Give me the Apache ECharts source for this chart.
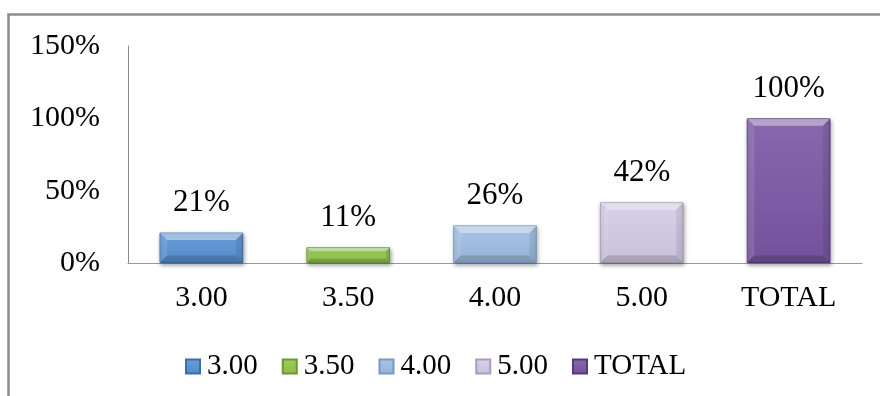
<!DOCTYPE html>
<html>
<head>
<meta charset="utf-8">
<script src="https://cdn.jsdelivr.net/npm/echarts@6/dist/echarts.min.js"></script>
<style>
  html, body { margin: 0; padding: 0; background: #fff; }
  #chart { width: 880px; height: 396px; }
</style>
</head>
<body>
<div id="chart"></div>
<script>
// Share of responses per score, with the overall total
const categories = ['3.00', '3.50', '4.00', '5.00', 'TOTAL'];
const percentages = [21, 11, 26, 42, 100];
const yMin = 0;
const yMax = 150;
const yStep = 50;

// Face and edge colours of each bar
const faceColors = ['#5893d6', '#92c84b', '#9fbee3', '#d5cce6', '#7a57a5'];
const edgeColors = ['#3b6ea9', '#6c9834', '#7a98bd', '#a89dbf', '#553a7b'];

const FONT = '"Liberation Serif", "Times New Roman", serif';

function shade(hex, amt) {
  const n = parseInt(hex.slice(1), 16);
  let r = n >> 16, g = (n >> 8) & 255, b = n & 255;
  const t = amt > 0 ? 255 : 0, p = Math.abs(amt);
  r = Math.round(r + (t - r) * p);
  g = Math.round(g + (t - g) * p);
  b = Math.round(b + (t - b) * p);
  return 'rgb(' + r + ',' + g + ',' + b + ')';
}

function faceGradient(c) {
  return new echarts.graphic.LinearGradient(0, 0, 0, 1, [
    { offset: 0, color: shade(c, 0.10) },
    { offset: 1, color: shade(c, -0.06) }
  ]);
}

const barSeries = categories.map((name, i) => ({
  type: 'bar',
  name: name,
  stack: 'all',
  barWidth: '57%',
  data: percentages.map((v, j) => (j === i ? v : '-')),
  itemStyle: {
    color: faceGradient(faceColors[i]),
    borderColor: edgeColors[i],
    borderWidth: 1,
    shadowColor: 'rgba(0,0,0,0.35)',
    shadowBlur: 4,
    shadowOffsetX: 1,
    shadowOffsetY: 2
  },
  label: {
    show: true,
    position: 'top',
    distance: 14,
    formatter: '{c}%',
    fontFamily: FONT,
    fontSize: 31,
    color: '#000'
  },
  emphasis: { disabled: true }
}));

// Bevelled facets laid over each bar
const bevelSeries = {
  type: 'custom',
  silent: true,
  z: 5,
  data: percentages.map((v, i) => [i, v]),
  encode: { x: 0, y: 1 },
  renderItem: function (params, api) {
    const top = api.coord([api.value(0), api.value(1)]);
    const base = api.coord([api.value(0), 0]);
    const w = api.size([1, 0])[0] * 0.57;
    const x0 = top[0] - w / 2 + 0.5, x1 = top[0] + w / 2 - 0.5;
    const yT = top[1] + 0.5, yB = base[1] - 0.5;
    const h = yB - yT;
    const d = Math.min(7, h * 0.25);
    const poly = (pts, fill) => ({ type: 'polygon', shape: { points: pts }, style: { fill: fill } });
    return {
      type: 'group',
      children: [
        poly([[x0, yT], [x1, yT], [x1 - d, yT + d], [x0 + d, yT + d]], 'rgba(255,255,255,0.42)'),
        poly([[x0, yT], [x0 + d, yT + d], [x0 + d, yB - d], [x0, yB]], 'rgba(255,255,255,0.12)'),
        poly([[x1, yT], [x1 - d, yT + d], [x1 - d, yB - d], [x1, yB]], 'rgba(0,0,0,0.08)'),
        poly([[x0, yB], [x0 + d, yB - d], [x1 - d, yB - d], [x1, yB]], 'rgba(0,0,0,0.15)')
      ]
    };
  }
};

const chart = echarts.init(document.getElementById('chart'), null, { renderer: 'canvas' });
chart.setOption({
  animation: false,
  backgroundColor: '#fff',
  graphic: [{
    type: 'rect',
    shape: { x: 8.5, y: 14.5, width: 1000, height: 1000 },
    style: { fill: 'none', stroke: '#8c8c8c', lineWidth: 2.5 },
    silent: true
  }],
  grid: { left: 128, right: 18, top: 46, bottom: 133 },
  legend: {
    data: categories,
    left: 180,
    top: 347,
    icon: 'rect',
    itemWidth: 14,
    itemHeight: 14,
    itemGap: 24,
    textStyle: { fontFamily: FONT, fontSize: 29, color: '#000', padding: [0, 0, 0, 2] }
  },
  xAxis: {
    type: 'category',
    data: categories,
    axisLine: { lineStyle: { color: '#9a9a9a', width: 1 } },
    axisTick: { show: false },
    axisLabel: { fontFamily: FONT, fontSize: 30, color: '#000', margin: 20 }
  },
  yAxis: {
    type: 'value',
    min: yMin,
    max: yMax,
    interval: yStep,
    axisLine: { show: true, lineStyle: { color: '#8a8a8a', width: 1 } },
    axisTick: { show: false },
    splitLine: { show: false },
    axisLabel: { fontFamily: FONT, fontSize: 30, color: '#000', margin: 28, formatter: '{value}%' }
  },
  series: barSeries.concat([bevelSeries])
});
</script>
</body>
</html>
